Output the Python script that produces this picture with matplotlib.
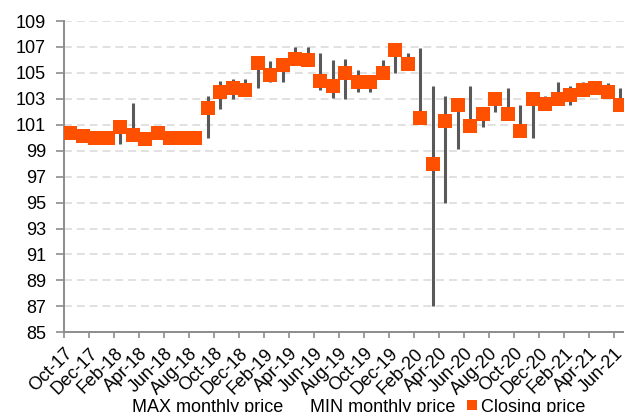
import matplotlib.pyplot as plt
from matplotlib.lines import Line2D
import numpy as np

#%% data
months = ['Oct-17', 'Nov-17', 'Dec-17', 'Jan-18', 'Feb-18', 'Mar-18', 'Apr-18', 'May-18',
          'Jun-18', 'Jul-18', 'Aug-18', 'Sep-18', 'Oct-18', 'Nov-18', 'Dec-18', 'Jan-19',
          'Feb-19', 'Mar-19', 'Apr-19', 'May-19', 'Jun-19', 'Jul-19', 'Aug-19', 'Sep-19',
          'Oct-19', 'Nov-19', 'Dec-19', 'Jan-20', 'Feb-20', 'Mar-20', 'Apr-20', 'May-20',
          'Jun-20', 'Jul-20', 'Aug-20', 'Sep-20', 'Oct-20', 'Nov-20', 'Dec-20', 'Jan-21',
          'Feb-21', 'Mar-21', 'Apr-21', 'May-21', 'Jun-21']

closing = [100.4, 100.1, 100.0, 100.0, 100.8, 100.2, 99.9, 100.4,
           100.0, 100.0, 100.0, 102.3, 103.5, 103.8, 103.7, 105.8,
           104.8, 105.6, 106.1, 106.0, 104.4, 104.0, 105.0, 104.3,
           104.3, 105.0, 106.8, 105.7, 101.5, 98.0, 101.3, 102.5,
           100.9, 101.8, 103.0, 101.8, 100.5, 103.0, 102.6, 103.0,
           103.3, 103.7, 103.8, 103.5, 102.5]

max_price = [100.6, 100.3, 100.2, 100.2, 100.9, 102.7, 100.1, 100.6,
             100.2, 100.2, 100.2, 103.2, 104.4, 104.5, 104.5, 106.0,
             105.9, 105.9, 107.0, 107.0, 106.5, 106.0, 106.1, 105.2,
             104.8, 106.0, 107.0, 106.5, 106.9, 104.0, 103.2, 102.9,
             104.0, 102.2, 103.3, 103.8, 102.5, 103.3, 103.2, 104.3,
             104.0, 104.3, 104.1, 104.2, 103.8]

min_price = [100.2, 99.9, 99.8, 99.8, 99.5, 100.0, 99.6, 100.2,
             99.8, 99.8, 99.8, 100.0, 102.2, 103.0, 103.3, 103.8,
             104.3, 104.3, 105.7, 105.6, 103.7, 103.1, 103.0, 103.5,
             103.5, 104.6, 105.0, 105.3, 101.2, 87.0, 95.0, 99.1,
             100.5, 100.8, 102.0, 101.4, 100.1, 100.0, 102.2, 102.7,
             102.5, 103.3, 103.5, 103.2, 102.2]

yticks = np.arange(85, 110, 2)

#%% plot
plt.rcParams['font.family'] = ['Liberation Sans', 'DejaVu Sans']
plt.rcParams['font.size'] = 13

orange = '#FF5000'
grey_line = '#595959'
axis_grey = '#8C8C8C'

fig = plt.figure(figsize=(6.24, 4.12), dpi=100)
ax = fig.add_axes([64 / 624, 79.7 / 412, 562.5 / 624, 311.3 / 412])

x = np.arange(len(months))
ax.vlines(x, min_price, max_price, color=grey_line, linewidth=2.2, zorder=2)
ax.plot(x, closing, linestyle='none', marker='s', markersize=10,
        markeredgewidth=0, color=orange, zorder=3)

ax.set_xlim(-0.5, len(months) - 0.5)
ax.set_ylim(85, 109)
ax.set_yticks(yticks)
ax.yaxis.grid(True, color='#D9D9D9', linewidth=1.1, linestyle=(0, (5.2, 3.2)), zorder=0)
ax.set_axisbelow(True)

# labels every 2nd month, tick marks on category boundaries
ax.set_xticks(x[::2])
ax.set_xticklabels(months[::2], rotation=45, ha='right', va='center',
                   rotation_mode='anchor')
ax.set_xticks(np.arange(-0.5, len(months), 2), minor=True)
ax.tick_params(axis='x', which='major', length=0, pad=13.5)
ax.tick_params(axis='x', which='minor', length=4, width=1.2, color=axis_grey)
ax.tick_params(axis='y', length=6, width=1.2, color=axis_grey, pad=7)

for side in ['top', 'right']:
    ax.spines[side].set_visible(False)
for side in ['left', 'bottom']:
    ax.spines[side].set_color(axis_grey)
    ax.spines[side].set_linewidth(1.4)

handles = [Line2D([], [], linestyle='none'),
           Line2D([], [], linestyle='none'),
           Line2D([], [], linestyle='none', marker='s', markersize=7,
                  markeredgewidth=0, color=orange)]
fig.legend(handles, ['MAX monthly price', 'MIN monthly price', 'Closing price'],
           loc='center', bbox_to_anchor=(352 / 624, 5 / 412), ncol=3, frameon=False,
           handlelength=0.55, handletextpad=0.22, columnspacing=0.67, borderpad=0,
           fontsize=13)

fig.savefig('out.png', dpi=100)
